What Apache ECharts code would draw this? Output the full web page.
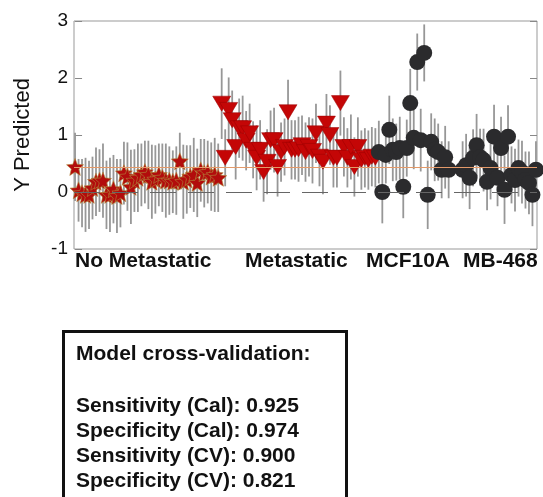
<!DOCTYPE html>
<html>
<head>
<meta charset="utf-8">
<script src="https://cdn.jsdelivr.net/npm/echarts@6/dist/echarts.min.js"></script>
<style>
html,body{margin:0;padding:0;background:#fff;}
#chart{width:543px;height:497px;}
</style>
</head>
<body>
<div id="chart"></div>
<script>
//分组起始序号
var noMetStart = 0;
var metStart = 42;
var mcfStart = 87;
var mbStart = 111;

//No Metastatic
var noMetY = [0.44,0.03,-0.02,-0.05,-0.05,0.07,0.18,0.2,0.2,-0.05,-0.05,0.05,-0.07,-0.02,0.33,0.27,0.09,0.2,0.25,0.3,
	0.35,0.3,0.18,0.22,0.3,0.25,0.2,0.2,0.18,0.2,0.54,0.18,0.22,0.27,0.3,0.16,0.38,0.33,0.35,0.27,0.3,0.25];
var noMetErr = [0.6,0.55,0.6,0.65,0.6,0.55,0.6,0.55,0.65,0.6,0.65,0.6,0.65,0.6,0.55,0.6,0.65,0.55,0.6,0.55,
	0.55,0.6,0.65,0.6,0.55,0.6,0.65,0.6,0.55,0.6,0.5,0.65,0.6,0.55,0.65,0.6,0.55,0.6,0.55,0.6,0.65,0.6];

//Metastatic
var metY = [1.55,0.6,1.44,1.26,0.79,1.12,1.12,0.9,1.03,0.74,0.6,0.74,0.35,0.53,0.91,0.91,0.44,0.7,0.79,1.4,
	0.74,0.74,0.75,0.82,0.7,0.79,0.72,1.03,0.62,0.53,1.2,1.0,0.6,0.6,1.56,0.79,0.6,0.79,0.44,0.79,
	0.56,0.6,0.56,0.62,0.6];
var metErr = [0.62,0.5,0.57,0.52,0.57,0.52,0.57,0.52,0.52,0.5,0.57,0.52,0.52,0.57,0.52,0.57,0.52,0.52,0.5,0.57,
	0.52,0.52,0.57,0.52,0.52,0.52,0.57,0.52,0.52,0.57,0.52,0.52,0.52,0.52,0.57,0.52,0.52,0.57,0.52,0.52,
	0.52,0.52,0.52,0.52,0.52];

//MCF10A
var mcfY = [0.7,0.0,0.65,1.09,0.74,0.7,0.77,0.09,0.77,1.56,0.95,2.28,0.91,2.44,-0.05,0.88,0.74,0.7,0.39,0.61,0.39];
var mcfErr = [0.55,0.55,0.5,0.6,0.55,0.5,0.55,0.55,0.5,0.6,0.55,0.5,0.55,0.5,0.6,0.5,0.55,0.5,0.5,0.55,0.5];

//MB-468
var mbY = [0.39,0.47,0.25,0.6,0.82,0.61,0.56,0.18,0.42,0.97,0.25,0.77,0.04,0.97,0.3,0.21,0.42,0.35,0.21,0.16,-0.05,0.39];
var mbErr = [0.5,0.55,0.55,0.5,0.55,0.5,0.55,0.5,0.55,0.56,0.5,0.55,0.6,0.55,0.5,0.55,0.5,0.55,0.5,0.55,0.55,0.5];

var groupNames = ['No Metastatic','Metastatic','MCF10A','MB-468'];
var boxLines = ['Model cross-validation:','','Sensitivity (Cal): 0.925','Specificity (Cal): 0.974','Sensitivity (CV): 0.900','Specificity (CV): 0.821'];
var yTicks = [-1,0,1,2,3];
var threshold = 0.43;

function toPoints(start, ys, errs){
	var arr = [];
	for(var i=0;i<ys.length;i++){
		arr.push([start + i, ys[i], errs[i]]);
	}
	return arr;
}
var noMetData = toPoints(noMetStart, noMetY, noMetErr);
var metData = toPoints(metStart, metY, metErr);
var mcfData = toPoints(mcfStart, mcfY, mcfErr);
var mbData = toPoints(mbStart, mbY, mbErr);
var allData = noMetData.concat(metData, mcfData, mbData);

//误差线
function renderErr(params, api){
	var x = api.value(0), y = api.value(1), e = api.value(2);
	var p1 = api.coord([x, y - e]);
	var p2 = api.coord([x, y + e]);
	return {
		type:'line',
		shape:{x1:p1[0],y1:p1[1],x2:p2[0],y2:p2[1]},
		style:{stroke:'#979797',lineWidth:1.8}
	};
}

//五角星(较胖)
var starPath = 'path://M50,0 L63,33 L100,36 L72,60 L81,96 L50,77 L19,96 L28,60 L0,36 L37,33 Z';
var font = 'Liberation Sans, Arial, Helvetica, sans-serif';

var chart = echarts.init(document.getElementById('chart'));
var labelPos = [75, 245, 366, 463];
var graphics = [];
for(var i=0;i<groupNames.length;i++){
	graphics.push({
		type:'text', left:labelPos[i], top:251,
		style:{text:groupNames[i], font:'bold 21px ' + font, fill:'#111'}
	});
}
graphics.push({
	type:'rect', left:62, top:330,
	shape:{width:283, height:200},
	style:{fill:'#fff', stroke:'#111', lineWidth:3}
});
var boxTop = [344, 370, 396, 421, 446, 471];
for(var j=0;j<boxLines.length;j++){
	if(!boxLines[j]) continue;
	graphics.push({
		type:'text', left:76, top:boxTop[j],
		style:{text:boxLines[j], font:'bold 21px ' + font, fill:'#111'}
	});
}

var option = {
	animation:false,
	grid:{left:74, right:6, top:21, bottom:248, show:true, borderColor:'#999', borderWidth:1},
	xAxis:{
		type:'value', min:-0.3, max:132.3,
		axisLine:{show:false}, axisTick:{show:false}, axisLabel:{show:false}, splitLine:{show:false}
	},
	yAxis:[{
		type:'value', min:yTicks[0], max:yTicks[yTicks.length-1], interval:1,
		name:'Y Predicted', nameLocation:'middle', nameGap:40,
		nameTextStyle:{fontSize:22, fontFamily:font, color:'#111'},
		axisLine:{show:false},
		axisTick:{show:true, inside:true, length:7, lineStyle:{color:'#888'}},
		axisLabel:{fontSize:19, fontFamily:font, color:'#111', margin:6},
		splitLine:{show:false}
	},{
		type:'value', position:'right', min:yTicks[0], max:yTicks[yTicks.length-1], interval:1,
		axisLine:{show:false},
		axisTick:{show:true, inside:true, length:7, lineStyle:{color:'#888'}},
		axisLabel:{show:false}, splitLine:{show:false}
	}],
	series:[
		{
			type:'custom', renderItem:renderErr, data:allData, z:1,
			encode:{x:0, y:1},
			markLine:{
				silent:true, symbol:'none', label:{show:false},
				data:[
					{yAxis:0, lineStyle:{color:'#666', type:[26,12], width:1}},
					{yAxis:threshold, lineStyle:{color:'#e39a6a', type:'solid', width:1}}
				]
			}
		},
		{
			type:'scatter', data:noMetData, symbol:starPath, symbolSize:17, z:3,
			itemStyle:{color:'#b20c0c', borderColor:'#b08a3a', borderWidth:0.6, opacity:1}
		},
		{
			type:'scatter', data:metData, symbol:'triangle', symbolRotate:180, symbolSize:[18,15], z:3,
			itemStyle:{color:'#c40606', borderColor:'#9a0000', borderWidth:0.5, opacity:1}
		},
		{
			type:'scatter', data:mcfData, symbol:'circle', symbolSize:16, z:3,
			itemStyle:{color:'#2b2b2d', opacity:1}
		},
		{
			type:'scatter', data:mbData, symbol:'circle', symbolSize:16, z:3,
			itemStyle:{color:'#2b2b2d', opacity:1}
		}
	],
	graphic:graphics
};
chart.setOption(option);
</script>
</body>
</html>
